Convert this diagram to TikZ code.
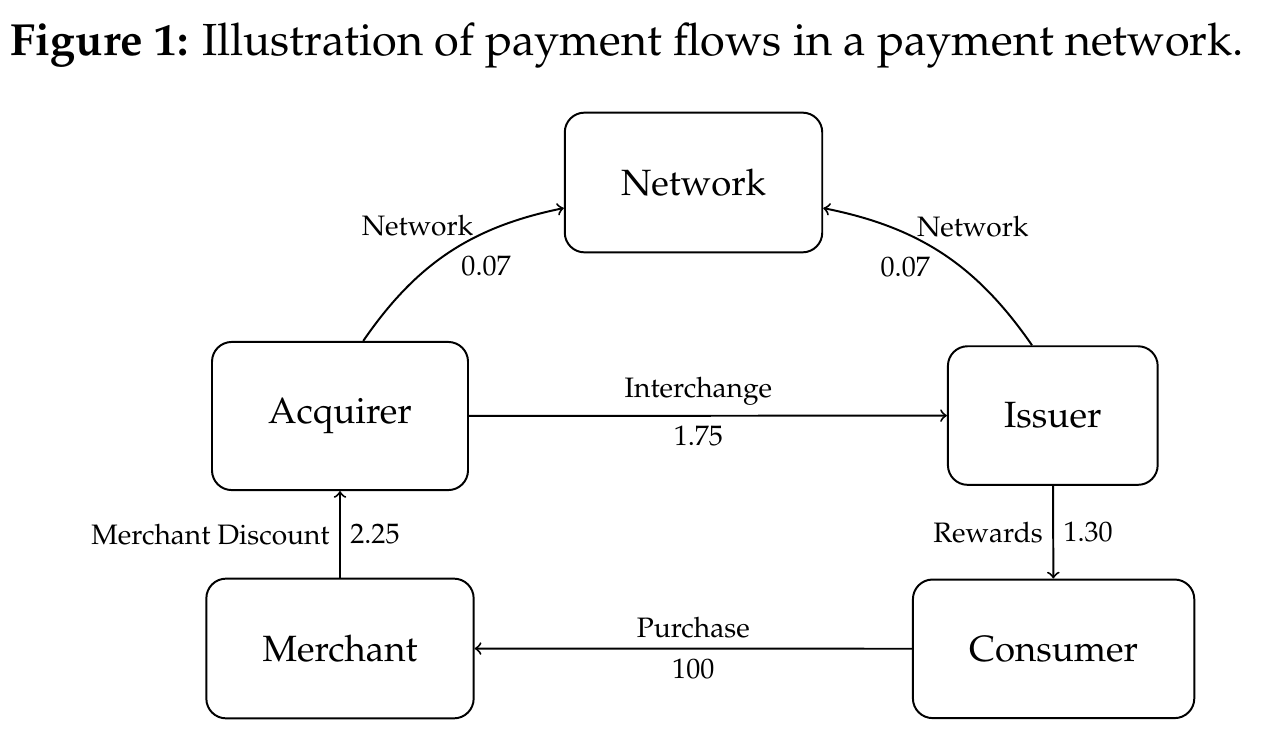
\documentclass[tikz,border=0pt]{standalone}
\usepackage[T1]{fontenc}
\usepackage{mathpazo}
\usetikzlibrary{positioning}
\tikzset{
 party/.style={draw, rounded corners=7pt, inner xsep=20pt, inner ysep=20pt, font=\fontsize{13}{15}\selectfont},
 flow/.style={->, line width=0.7pt}
}
\begin{document}
\begin{tikzpicture}[line width=0.7pt]
 \useasboundingbox (0,0) rectangle (16.075,-9.225);
 \node[anchor=base west, inner sep=0pt] (title) at (0.125,-0.69) {\fontsize{16}{19}\selectfont\textbf{Figure 1:} Illustration of payment flows in a payment network.};
 %
 \node[party] (network) at (8.669,-2.281) {Network};
 \node[party] (acquirer) at (4.25,-5.2) {Acquirer};
 \node[party] (issuer) at (13.16,-5.194) {Issuer};
 \node[party] (merchant) at (4.25,-8.106) {Merchant};
 \node[party] (consumer) at (13.17,-8.11) {Consumer};
 %
 \draw[flow] (acquirer) -- node[pos=0.48, above]{Interchange} node[pos=0.48, below]{1.75} (issuer);
 \draw[flow] (consumer) -- node[above]{Purchase} node[below]{100} (merchant);
 %
 \draw[flow] (merchant) -- node[left]{Merchant Discount} node[right]{2.25} (acquirer);
 \draw[flow] (issuer) -- node[left]{Rewards} node[right]{1.30} (consumer);
 %
 \draw[flow] ([xshift=0.29cm]acquirer.north) to[bend left=22]
  node[pos=0.66, above left, xshift=0.03cm, yshift=-0.15cm]{Network}
  node[pos=0.54, below right, xshift=-0.07cm, yshift=0.03cm]{0.07} ([yshift=-0.32cm]network.west);
 \draw[flow] ([xshift=-0.26cm]issuer.north) to[bend right=22]
  node[pos=0.66, above right, xshift=-0.03cm, yshift=-0.15cm]{Network}
  node[pos=0.54, below left, xshift=0.07cm, yshift=0.03cm]{0.07} ([yshift=-0.32cm]network.east);
\end{tikzpicture}
\end{document}
